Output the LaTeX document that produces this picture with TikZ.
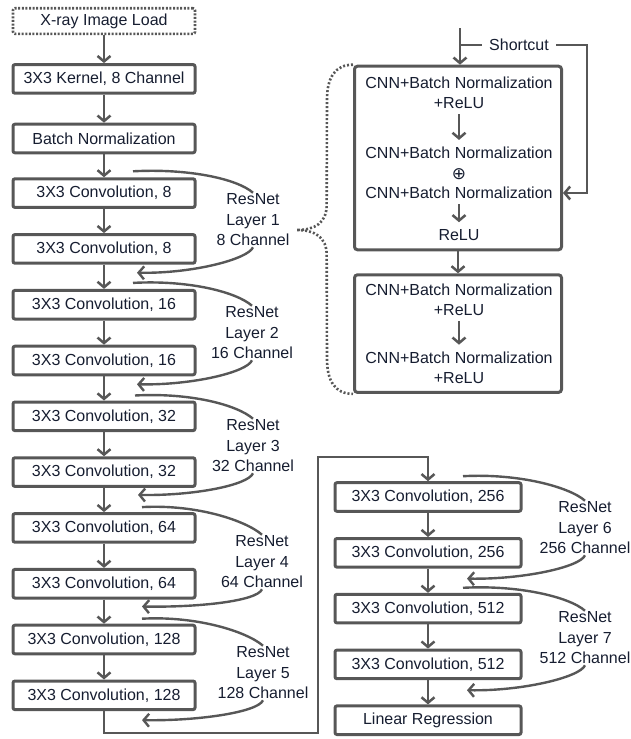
\documentclass[tikz,border=0pt]{standalone}
\usepackage{fontspec}
\setmainfont{Liberation Sans}
\newfontfamily\symbolfont{DejaVu Sans}
\usetikzlibrary{positioning}
\usetikzlibrary{calc}
\usetikzlibrary{arrows.meta}
\definecolor{linegray}{HTML}{575757}
\definecolor{textnavy}{HTML}{161D30}
\newcommand{\boxfont}{\fontsize{16}{20.5}\selectfont}

\begin{document}
\begin{tikzpicture}[x=1pt, y=-1pt,
        every node/.style={text=textnavy, font=\boxfont},
        layer/.style={draw=linegray, line width=3pt, rounded corners=2pt,
                      minimum width=182pt, minimum height=28.6pt, inner sep=0pt},
        loadbox/.style={layer, line width=2.6pt, dash pattern=on 2pt off 1.6pt,
                        minimum height=25.6pt},
        bigbox/.style={draw=linegray, line width=3pt, rounded corners=3pt,
                       minimum width=207pt},
        lbl/.style={align=center, inner sep=1pt},
        flow/.style={draw=linegray, line width=2.5pt,
                     -{Straight Barb[length=5.5pt,width=13pt]}},
        innerflow/.style={flow, shorten <=4pt, shorten >=6pt},
        skip/.style={flow, line width=2.4pt},
        brace/.style={draw=linegray, line width=2.6pt, dash pattern=on 2pt off 2pt},
        node distance=24.2pt]
    \useasboundingbox (0,0) rectangle (631,739);

    % left column
    \node[loadbox] (load) at (104,21) {X-ray Image Load};
    \node[layer, below=28pt of load] (kern) {3X3 Kernel, 8 Channel};
    \node[layer, below=28pt of kern] (bn) {Batch Normalization};
    \node[layer, below=23pt of bn] (c1) {3X3 Convolution, 8};
    \node[layer, below=of c1] (c2) {3X3 Convolution, 8};
    \node[layer, below=of c2] (c3) {3X3 Convolution, 16};
    \node[layer, below=of c3] (c4) {3X3 Convolution, 16};
    \node[layer, below=of c4] (c5) {3X3 Convolution, 32};
    \node[layer, below=of c5] (c6) {3X3 Convolution, 32};
    \node[layer, below=of c6] (c7) {3X3 Convolution, 64};
    \node[layer, below=of c7] (c8) {3X3 Convolution, 64};
    \node[layer, below=of c8] (c9) {3X3 Convolution, 128};
    \node[layer, below=of c9] (c10) {3X3 Convolution, 128};

    % right column
    \node[layer, minimum width=186pt, at={(428,497)}] (r1) {3X3 Convolution, 256};
    \node[layer, minimum width=186pt, below=of r1] (r2) {3X3 Convolution, 256};
    \node[layer, minimum width=186pt, below=of r2] (r3) {3X3 Convolution, 512};
    \node[layer, minimum width=186pt, below=of r3] (r4) {3X3 Convolution, 512};
    \node[layer, minimum width=186pt, below=of r4] (lin) {Linear Regression};

    % resnet labels
    \node[lbl] (res1) at (253,220) {ResNet\\Layer 1\\8 Channel};
    \node[lbl] (res2) at (252,333) {ResNet\\Layer 2\\16 Channel};
    \node[lbl] (res3) at (253,446) {ResNet\\Layer 3\\32 Channel};
    \node[lbl] (res4) at (262,562) {ResNet\\Layer 4\\64 Channel};
    \node[lbl] (res5) at (263,673) {ResNet\\Layer 5\\128 Channel};
    \node[lbl] (res6) at (585,528) {ResNet\\Layer 6\\256 Channel};
    \node[lbl] (res7) at (585,638) {ResNet\\Layer 7\\512 Channel};

    % block detail
    \node[bigbox, minimum height=183.6pt] (blk1) at (458,158) {};
    \node[bigbox, minimum height=117.6pt, below=22pt of blk1] (blk2) {};
    \node[lbl] (cnn1) at (459,93) {CNN+Batch Normalization\\+ReLU};
    \node[lbl] (cnn2) at (459,153) {CNN+Batch Normalization};
    \node[inner sep=0pt, text height=12pt, text depth=0pt,
          font=\symbolfont\fontsize{17}{17}\selectfont] (plus) at (459,173) {⊕};
    \node[lbl] (cnn3) at (459,193) {CNN+Batch Normalization};
    \node[lbl] (relu) at (459,235) {ReLU};
    \node[lbl] (cnn4) at (459,300) {CNN+Batch Normalization\\+ReLU};
    \node[lbl] (cnn5) at (459,368) {CNN+Batch Normalization\\+ReLU};

    % main flow
    \draw[flow] (load) -- (kern);
    \draw[flow] (kern) -- (bn);
    \draw[flow] (bn) -- (c1);
    \draw[flow] (c1) -- (c2);
    \draw[flow] (c2) -- (c3);
    \draw[flow] (c3) -- (c4);
    \draw[flow] (c4) -- (c5);
    \draw[flow] (c5) -- (c6);
    \draw[flow] (c6) -- (c7);
    \draw[flow] (c7) -- (c8);
    \draw[flow] (c8) -- (c9);
    \draw[flow] (c9) -- (c10);
    \coordinate (low) at (318,733);
    \coordinate (high) at (318,457);
    \draw[flow] (c10.south) |- (low) -- (high) -| (r1.north);
    \draw[flow] (r1) -- (r2);
    \draw[flow] (r2) -- (r3);
    \draw[flow] (r3) -- (r4);
    \draw[flow] (r4) -- (lin);

    % skip connections
    \coordinate (s1) at ($(c1.north)+(29,-6)$);
    \coordinate (e1) at ($(c2.south)+(33,8)$);
    \coordinate (s2) at ($(c3.north)+(29,-6)$);
    \coordinate (e2) at ($(c4.south)+(33,8)$);
    \coordinate (s3) at ($(c5.north)+(31,-5)$);
    \coordinate (e3) at ($(c6.south)+(34,7)$);
    \coordinate (s4) at ($(c7.north)+(38,-5)$);
    \coordinate (e4) at ($(c8.south)+(38,7)$);
    \coordinate (s5) at ($(c9.north)+(38,-5)$);
    \coordinate (e5) at ($(c10.south)+(38,9)$);
    \coordinate (s6) at ($(r1.north)+(35,-5)$);
    \coordinate (e6) at ($(r2.south)+(39,10)$);
    \coordinate (s7) at ($(r3.north)+(35,-5)$);
    \coordinate (e7) at ($(r4.south)+(39,10)$);
    \draw[skip, -] (s1) .. controls +(55,-3) and +(-16,-14) .. (res1.north);
    \draw[skip] (res1.south) .. controls +(-5,12) and +(55,1) .. (e1);
    \draw[skip, -] (s2) .. controls +(55,-3) and +(-16,-14) .. (res2.north);
    \draw[skip] (res2.south) .. controls +(-5,12) and +(55,1) .. (e2);
    \draw[skip, -] (s3) .. controls +(55,-3) and +(-16,-14) .. (res3.north);
    \draw[skip] (res3.south) .. controls +(-5,12) and +(55,1) .. (e3);
    \draw[skip, -] (s4) .. controls +(55,-3) and +(-16,-14) .. (res4.north);
    \draw[skip] (res4.south) .. controls +(-5,12) and +(55,1) .. (e4);
    \draw[skip, -] (s5) .. controls +(55,-3) and +(-16,-14) .. (res5.north);
    \draw[skip] (res5.south) .. controls +(-5,12) and +(55,1) .. (e5);
    \draw[skip, -] (s6) .. controls +(55,-3) and +(-16,-14) .. (res6.north);
    \draw[skip] (res6.south) .. controls +(-5,12) and +(55,1) .. (e6);
    \draw[skip, -] (s7) .. controls +(55,-3) and +(-16,-14) .. (res7.north);
    \draw[skip] (res7.south) .. controls +(-5,12) and +(55,1) .. (e7);

    % inside the block
    \draw[innerflow] (cnn1) -- (cnn2);
    \draw[innerflow] (cnn3) -- (relu);
    \draw[innerflow] (cnn4) -- (cnn5);
    \draw[flow] (blk1) -- (blk2);

    % shortcut
    \coordinate (entry) at (460,28);
    \coordinate (split) at (460,45);
    \coordinate (turn) at (587,45);
    \draw[flow] (entry) -- (entry |- blk1.north);
    \draw[flow] (split) -- (turn) |- (blk1.east |- cnn3);
    \node[lbl, fill=white, inner xsep=7pt] (shortcut) at (519,45) {Shortcut};

    % brace to layer 1
    \coordinate (tip) at ($(res1.east)+(6,10)$);
    \draw[brace] (blk1.north west) .. controls +(-18,0) and +(0,-22) .. ($(blk1.north west)+(-26,35)$)
        -- ($(tip)+(30,-25)$) .. controls +(0,18) and +(18,0) .. (tip)
        .. controls +(18,0) and +(0,-18) .. ($(tip)+(30,25)$)
        -- ($(blk2.south west)+(-26,-35)$) .. controls +(0,22) and +(-18,0) .. (blk2.south west);
\end{tikzpicture}
\end{document}
